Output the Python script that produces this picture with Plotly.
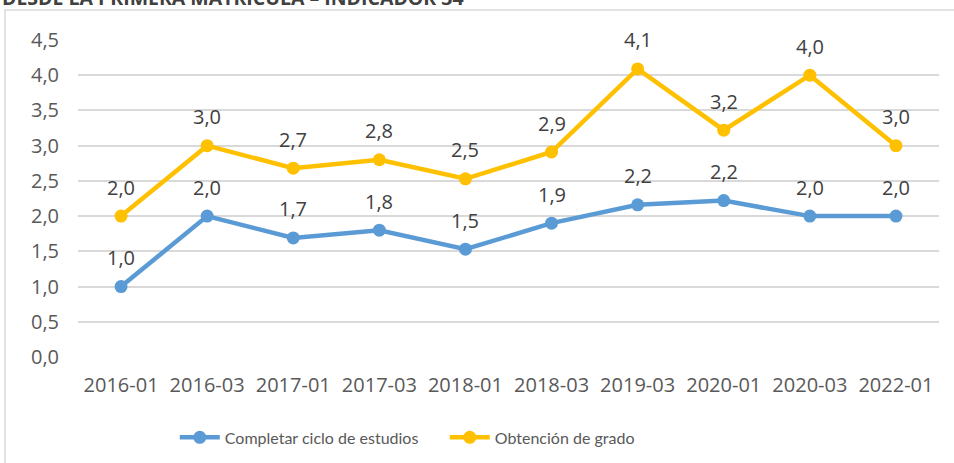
import plotly.graph_objects as go

COLORS = {
    "blue": "#5b9bd5",
    "yellow": "#ffc000",
    "grid": "#d9d9d9",
    "text": "#404040",
    "tick": "#595959",
}

periods = ["2016-01", "2016-03", "2017-01", "2017-03", "2018-01",
           "2018-03", "2019-03", "2020-01", "2020-03", "2022-01"]
ciclo = [1.0, 2.0, 1.69, 1.8, 1.53, 1.9, 2.16, 2.22, 2.0, 2.0]
grado = [2.0, 3.0, 2.68, 2.8, 2.53, 2.91, 4.09, 3.22, 4.0, 3.0]
series_names = ["Completar ciclo de estudios", "Obtención de grado"]
y_ticks = [0, 0.5, 1, 1.5, 2, 2.5, 3, 3.5, 4, 4.5]
title_text = "DESDE LA PRIMERA MATRÍCULA – INDICADOR 34"

FONT = "Open Sans"

fig = go.Figure()
for name, values, color in [(series_names[0], ciclo, COLORS["blue"]),
                            (series_names[1], grado, COLORS["yellow"])]:
    fig.add_trace(
        go.Scatter(
            x=periods,
            y=values,
            name=name,
            mode="lines+markers",
            line={"color": color, "width": 4.5},
            marker={"color": color, "size": 13},
            hoverinfo="skip",
        )
    )
    for x, v in zip(periods, values):
        fig.add_annotation(
            x=x, y=v, text=f"{v:.1f}".replace(".", ","),
            showarrow=False, yshift=29,
            font={"family": FONT, "size": 20, "color": COLORS["text"]},
        )

# outer chart frame (open on the right, as in the source image)
fig.add_shape(
    type="rect", xref="paper", yref="paper",
    x0=-0.0848, x1=1.03, y0=-0.37, y1=1.0946,
    line={"color": COLORS["grid"], "width": 1.5},
    layer="below",
)

# title of the source figure, cut by the top edge of the picture
fig.add_annotation(
    text=f"<b>{title_text}</b>", xref="paper", yref="paper",
    x=-0.091, y=1.135, xanchor="left", yanchor="middle",
    showarrow=False,
    font={"family": FONT, "size": 19.5, "color": COLORS["text"]},
)

fig.update_layout(
    width=954,
    height=463,
    paper_bgcolor="white",
    plot_bgcolor="white",
    separators=",.",
    margin={"l": 78, "r": 15, "t": 40, "b": 106, "autoexpand": False},
    font={"family": FONT, "color": COLORS["tick"]},
    xaxis={
        "type": "category",
        "showgrid": False,
        "showline": False,
        "ticks": "",
        "tickfont": {"size": 20, "color": COLORS["tick"]},
        "ticklabelstandoff": 14,
        "range": [-0.5, 9.5],
    },
    yaxis={
        "range": [0, 4.5],
        "tickvals": y_ticks,
        "tickformat": ".1f",
        "gridcolor": COLORS["grid"],
        "gridwidth": 1.5,
        "zeroline": False,
        "showline": False,
        "ticks": "",
        "tickfont": {"size": 20, "color": COLORS["tick"]},
        "ticklabelstandoff": 18,
    },
    legend={
        "orientation": "h",
        "x": 0.426, "xanchor": "center",
        "y": -0.2, "yanchor": "top",
        "font": {"family": "Lato", "size": 16, "color": COLORS["tick"]},
        "itemwidth": 40,
        "entrywidth": 215,
        "tracegroupgap": 0,
    },
    showlegend=True,
)

fig.write_html(
    "out.html",
    config={"displayModeBar": False},
    post_script="document.body.style.margin = '0';",
)
